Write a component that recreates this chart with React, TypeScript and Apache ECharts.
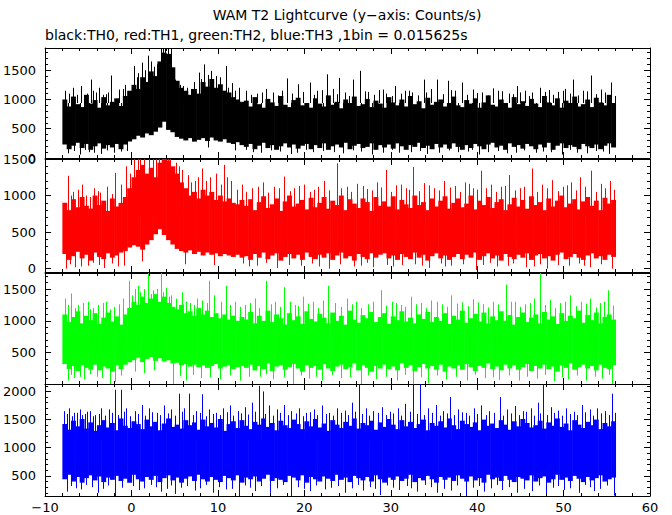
import React, { useEffect, useRef } from "react";
import * as echarts from "echarts";

const FONT = "DejaVu Sans";

// time bins: first bin starts at -8 s, each envelope bin is 0.5 s wide
const binStart = -8;
const binWidth = 0.5;

const xMajorTicks = [-10, 0, 10, 20, 30, 40, 50, 60];

// TH0 (black) upper / lower edge of the dense band, per 0.5 s
const th0Hi = [
  1000, 880, 1050, 920, 870, 1080, 930, 990, 860, 1040, 900, 960, 1020, 890, 1060, 1150,
  1250, 1180, 1380, 1300, 1480, 1400, 1650, 1800, 1780, 1550, 1320, 1200, 1150, 1080, 1180, 1100,
  1300, 1220, 1350, 1200, 1260, 1150, 1120, 1040, 1000, 960,
  980, 880, 1040, 920, 860, 1010, 950, 890, 1060, 910, 870, 990, 1030, 900, 940, 860,
  1020, 930, 880, 1070, 910, 960, 850, 1000, 940, 1050, 890, 920, 1010, 870, 980, 930,
  860, 1040, 950, 900, 1000, 880, 1060, 920, 970, 850, 1030, 910, 960, 1000, 880, 940,
  1050, 900, 870, 990, 930, 1020, 860, 950, 1070, 910, 880, 1000, 940, 860, 1040, 920,
  970, 890, 1010, 930, 870, 1060, 950, 900, 1020, 860, 980, 940, 1050, 880, 920, 1000,
  870, 1030, 950, 900, 1080, 940,
];
const th0Lo = [
  230, 150, 210, 260, 170, 240, 140, 200, 250, 160, 220, 180, 240, 150, 230, 280,
  320, 380, 350, 420, 390, 450, 520, 620, 480, 440, 360, 330, 300, 340, 280, 310,
  340, 290, 350, 300, 280, 320, 260, 240, 270, 220,
  190, 240, 150, 210, 260, 170, 220, 140, 200, 250, 180, 230, 160, 210, 240, 150,
  220, 170, 250, 140, 200, 230, 180, 260, 150, 210, 240, 170, 190, 250, 140, 220,
  180, 230, 160, 250, 200, 140, 220, 190, 260, 170, 210, 150, 240, 180, 230, 160,
  250, 190, 140, 220, 170, 240, 200, 150, 230, 260, 180, 210, 140, 250, 190, 220,
  160, 240, 200, 150, 230, 180, 260, 140, 210, 250, 170, 220, 190, 150, 240, 200,
  170, 230, 150, 210, 250, 180,
];
// isolated spikes above / below the band [time s, counts/s]
const th0Spikes = [
  [-7.67, 1150], [-7.2, 1100], [-6.82, 1200], [-6.3, 1080], [-5.81, 1230], [-5.5, 1060], [-5.2, 1100],
  [-4.72, 1340], [-4.4, 1150], [-4.1, 1120], [-3.79, 1200], [-3.3, 1080], [-3.0, 1090], [-2.7, 1120],
  [-2.32, 1410], [-1.48, 1170], [-1.0, 1180], [-0.8, 1250], [0.33, 1570], [0.6, 1380], [0.8, 1450],
  [1.26, 1630], [1.6, 1500], [1.89, 1750], [2.2, 1650], [2.6, 1560], [2.9, 1600], [3.36, 2000], [3.7, 2000],
  [3.9, 1900], [4.2, 2000], [4.6, 2000], [4.9, 1400], [5.04, 1340], [5.6, 1250], [6.0, 1230], [6.4, 1200],
  [6.9, 1180], [7.2, 1300], [7.78, 1460], [8.0, 1350], [8.41, 1600], [8.8, 1420], [9.25, 1490], [9.8, 1400],
  [10.2, 1380], [10.93, 1570], [11.2, 1200], [11.6, 1280], [12.0, 1150], [12.4, 1200], [13.3, 1150],
  [13.8, 1080], [14.5, 1100], [15.1, 1120], [15.6, 1180], [16.4, 1120], [16.9, 1070], [17.4, 1150],
  [17.96, 1360], [18.6, 1100], [19.26, 1260], [19.9, 1130], [20.6, 1290], [21.1, 1080], [21.5, 1150],
  [22.1, 1160], [22.6, 1430], [23.3, 1180], [23.8, 1090], [24.04, 1370], [24.7, 1120], [25.2, 1060],
  [25.64, 1340], [26.48, 1490], [27.0, 1140], [27.4, 1130], [28.1, 1080], [28.6, 1160], [29.1, 1170],
  [29.5, 1100], [30.1, 1060], [30.5, 1230], [31.2, 1100], [31.7, 1150], [32.1, 1150], [32.5, 1120],
  [33.2, 1070], [33.86, 1340], [34.1, 1120], [34.6, 1180], [35.33, 1340], [36.0, 1090], [36.6, 1320],
  [37.0, 1160], [37.4, 1150], [38.28, 1290], [38.8, 1080], [39.5, 1170], [40.0, 1110], [40.6, 1120],
  [41.3, 1070], [41.8, 1190], [42.4, 1150], [42.9, 1140], [43.7, 1100], [44.1, 1090], [44.6, 1230],
  [45.0, 1120], [45.5, 1150], [46.0, 1060], [46.4, 1120], [47.3, 1200], [47.8, 1130], [48.3, 1160],
  [48.8, 1080], [49.4, 1130], [49.9, 1150], [50.2, 1180], [50.7, 1100], [51.1, 1340], [51.7, 1070],
  [52.2, 1150], [52.7, 1140], [53.2, 1410], [53.8, 1090], [54.3, 1170], [54.8, 1120], [55.5, 1290],
  [55.9, 1060],
];
const th0Dips = [
  [-7.3, 80], [-6.6, 120], [-6.0, 60], [-5.4, 140], [-4.9, 100], [-4.3, 90], [-3.5, 70], [-2.8, 130],
  [-2.0, 90], [-1.2, 110], [-0.5, 120], [8.8, 180], [12.0, 130], [13.2, 140], [14.1, 100], [15.0, 90],
  [16.2, 130], [17.2, 110], [18.4, 70], [19.2, 90], [20.2, 140], [21.0, 100], [22.2, 120], [23.4, 100],
  [24.5, 80], [25.6, 130], [26.6, 110], [27.8, 60], [29.1, 90], [30.2, 140], [31.0, 90], [32.3, 100],
  [33.4, 120], [34.2, 70], [35.6, 90], [36.7, 130], [37.8, 100], [38.9, 110], [39.4, 140], [40.2, 60],
  [41.3, 100], [42.4, 120], [43.5, 80], [44.5, 90], [45.4, 130], [46.8, 90], [47.6, 110], [48.5, 100],
  [49.8, 60], [50.8, 140], [51.6, 90], [52.7, 80], [53.8, 120], [54.6, 110], [55.2, 70],
];

// TH1 (red)
const th1Hi = [
  900, 800, 950, 840, 980, 860, 820, 1000, 870, 930, 790, 960, 850, 900, 980, 1100,
  1250, 1350, 1420, 1300, 1380, 1250, 1450, 1500, 1480, 1400, 1300, 1180, 1100, 1000, 1050, 960,
  1080, 1000, 1050, 940, 1000, 920, 960, 900, 880, 940,
  860, 950, 800, 910, 990, 830, 880, 960, 790, 920, 1000, 850, 890, 940, 810, 970,
  840, 900, 980, 820, 930, 870, 1000, 800, 950, 890, 830, 960, 910, 790, 980, 860,
  920, 850, 990, 810, 940, 880, 830, 1000, 870, 910, 800, 960, 850, 930, 990, 820,
  900, 960, 840, 890, 1000, 810, 930, 870, 980, 830, 910, 950, 800, 880, 970, 850,
  940, 820, 990, 870, 910, 800, 960, 850, 930, 1000, 840, 890, 950, 810, 920, 980,
  860, 930, 800, 970, 890, 940,
];
const th1Lo = [
  200, 120, 170, 230, 140, 190, 110, 220, 160, 130, 210, 150, 180, 220, 240, 290,
  320, 300, 260, 330, 390, 470, 540, 460, 390, 330, 270, 240, 220, 250, 200, 230,
  180, 220, 190, 210, 170, 200, 180, 160, 190, 150,
  170, 120, 200, 150, 220, 130, 180, 210, 110, 160, 200, 140, 190, 120, 220, 160,
  130, 190, 150, 210, 120, 180, 220, 140, 170, 110, 200, 160, 130, 210, 150, 190,
  210, 140, 180, 120, 200, 160, 130, 220, 150, 190, 110, 170, 210, 140, 180, 120,
  160, 200, 130, 190, 150, 220, 120, 170, 210, 140, 180, 110, 200, 160, 130, 190,
  150, 210, 120, 180, 200, 140, 170, 110, 190, 220, 130, 160, 200, 150, 120, 180,
  210, 140, 170, 120, 190, 160,
];
const th1Spikes = [
  [-7.37, 1270], [-7.0, 1000], [-6.8, 1050], [-6.2, 1080], [-5.7, 1150], [-5.3, 1000], [-4.8, 980],
  [-4.3, 1100], [-3.9, 1060], [-3.6, 1040], [-2.8, 1120], [-2.3, 1020], [-1.9, 1310], [-1.2, 1150],
  [-0.6, 1400], [-0.2, 1300], [0.3, 1600], [0.8, 1600], [1.0, 1500], [1.5, 1600], [2.0, 1600], [2.5, 1550],
  [2.8, 1500], [3.2, 1600], [3.5, 1600], [3.9, 1600], [4.2, 1550], [4.5, 1600], [5.2, 1450], [5.5, 1400],
  [5.8, 1350], [6.5, 1280], [6.9, 1180], [7.3, 1200], [7.7, 1250], [8.2, 1370], [8.6, 1200], [9.1, 1250],
  [9.8, 1300], [10.3, 1150], [10.72, 1420], [11.0, 1250], [11.5, 1200], [12.2, 1080], [12.8, 1150],
  [13.3, 1050], [14.0, 1100], [14.6, 1120], [15.2, 1180], [15.8, 1040], [16.5, 1120], [17.1, 1100],
  [17.7, 1260], [18.3, 1060], [18.8, 1100], [19.4, 1130], [20.0, 1150], [20.6, 1050], [21.1, 1080],
  [21.6, 1120], [22.3, 1200], [22.8, 1070], [23.8, 1440], [24.3, 1100], [24.9, 1120], [25.4, 1050],
  [26.1, 1160], [26.8, 1130], [27.3, 1090], [27.8, 1070], [28.4, 1180], [28.9, 1110], [29.4, 1350],
  [30.0, 1050], [30.6, 1140], [31.2, 1150], [31.8, 1100], [32.1, 1080], [32.6, 1390], [33.3, 1060],
  [33.8, 1170], [34.4, 1140], [35.0, 1100], [35.6, 1070], [36.2, 1200], [36.8, 1110], [37.4, 1130],
  [38.0, 1050], [38.6, 1180], [39.0, 1160], [39.5, 1100], [40.0, 1080], [40.4, 1340], [41.0, 1100],
  [41.6, 1150], [42.2, 1050], [42.8, 1120], [43.2, 1130], [43.7, 1280], [44.4, 1070], [44.9, 1100],
  [45.4, 1120], [46.3, 1370], [46.9, 1050], [47.5, 1150], [48.1, 1100], [48.7, 1210], [49.3, 1060],
  [49.9, 1120], [50.4, 1140], [50.9, 1180], [51.4, 1070], [51.9, 1250], [52.5, 1120], [53.2, 1340],
  [53.7, 1050], [54.3, 1160], [54.8, 1100], [55.4, 1200], [55.8, 1080],
];
const th1Dips = [
  [-7.6, 0], [-7.1, 60], [-6.5, 20], [-5.9, 30], [-5.0, 40], [-4.5, 80], [-3.8, 50], [-3.2, 10],
  [-2.3, 70], [-1.6, 30], [-0.9, 40], [1.2, 100], [6.2, 60], [9.5, 50], [12.9, 70], [13.6, 30],
  [14.5, 40], [15.6, 80], [16.8, 10], [18.2, 50], [19.6, 40], [20.9, 70], [21.7, 30], [22.8, 0],
  [24.1, 60], [25.7, 30], [26.5, 40], [27.2, 80], [28.0, 20], [29.6, 50], [30.3, 30], [31.3, 50],
  [32.8, 60], [33.6, 40], [34.4, 10], [35.8, 70], [36.3, 30], [37.0, 40], [38.4, 60], [39.9, -20],
  [40.7, 50], [41.5, 80], [42.3, 30], [43.6, 40], [44.2, 70], [45.6, 20], [46.6, 30], [47.3, 60],
  [48.1, 0], [49.4, 50], [50.6, 40], [51.8, 70], [52.4, 40], [53.0, 20], [54.3, 60], [55.6, 0],
];

// TH2 (green)
const th2Hi = [
  1100, 980, 1060, 1150, 960, 1080, 1010, 1120, 950, 1050, 1130, 990, 1070, 940, 1100, 1200,
  1300, 1250, 1380, 1280, 1350, 1420, 1300, 1380, 1280, 1220, 1180, 1250, 1120, 1150, 1080, 1200,
  1100, 1160, 1060, 1120, 1040, 1100, 1020, 1080, 1000, 1060,
  1020, 1140, 960, 1080, 1000, 1160, 980, 1100, 1040, 940, 1120, 1010, 1070, 950, 1150, 1030,
  990, 1110, 1050, 960, 1130, 1000, 1080, 940, 1160, 1020, 970, 1090, 1040, 1140, 980, 1060,
  1120, 950, 1070, 1010, 1150, 990, 1050, 960, 1100, 1030, 1140, 980, 1060, 1000, 1120, 950,
  1080, 1020, 1160, 970, 1040, 1110, 990, 1130, 960, 1070, 1010, 1150, 1000, 1090, 940, 1060,
  1130, 980, 1050, 1100, 960, 1140, 1020, 1070, 950, 1120, 1000, 1080, 1040, 1160, 970, 1090,
  1010, 1130, 960, 1060, 1100, 1020,
];
const th2Lo = [
  320, 240, 290, 210, 300, 260, 230, 310, 220, 280, 250, 200, 300, 240, 310, 350,
  380, 420, 350, 400, 430, 370, 410, 360, 380, 330, 340, 300, 320, 280, 310, 270,
  300, 260, 290, 320, 250, 280, 300, 240, 270, 290,
  260, 310, 220, 290, 240, 330, 210, 280, 300, 230, 270, 320, 250, 200, 300, 260,
  290, 230, 320, 250, 210, 280, 310, 240, 270, 330, 220, 300, 260, 200, 290, 250,
  310, 240, 280, 220, 330, 260, 300, 210, 270, 320, 250, 290, 230, 310, 200, 280,
  250, 300, 230, 320, 270, 210, 290, 260, 330, 240, 280, 220, 310, 250, 300, 230,
  270, 320, 210, 290, 250, 310, 240, 280, 200, 300, 260, 330, 230, 270, 310, 250,
  290, 220, 310, 260, 240, 300,
];
const th2Spikes = [
  [-7.7, 1350], [-7.3, 1250], [-6.95, 1430], [-6.5, 1200], [-6.2, 1250], [-5.6, 1280], [-5.0, 1300],
  [-4.8, 1180], [-4.4, 1200], [-3.9, 1250], [-3.3, 1280], [-2.9, 1300], [-2.5, 1180], [-2.0, 1220],
  [-1.5, 1260], [-1.0, 1350], [-0.3, 1630], [0.0, 1400], [0.4, 1500], [0.7, 1550], [1.0, 1450], [1.4, 1500],
  [1.9, 1760], [2.2, 1420], [2.5, 1480], [2.9, 1500], [3.4, 1760], [3.7, 1450], [4.0, 1520], [4.3, 1380],
  [4.6, 1400], [5.2, 1350], [5.9, 1450], [6.3, 1300], [6.8, 1280], [7.2, 1250], [7.6, 1350], [8.2, 1320],
  [8.7, 1280], [9.0, 1630], [9.6, 1400], [10.3, 1300], [10.9, 1550], [11.4, 1250], [12.0, 1300],
  [12.6, 1220], [13.1, 1250], [13.7, 1280], [14.3, 1350], [14.8, 1200], [15.6, 1630], [16.1, 1260],
  [16.6, 1300], [17.2, 1220], [17.7, 1530], [18.3, 1300], [18.9, 1250], [19.3, 1230], [19.8, 1380],
  [20.4, 1270], [21.0, 1300], [21.6, 1200], [22.2, 1320], [22.7, 1550], [23.6, 1280], [24.2, 1220],
  [24.9, 1350], [25.5, 1260], [26.0, 1300], [26.6, 1200], [27.4, 1260], [28.0, 1300], [28.9, 1480],
  [29.5, 1240], [30.1, 1300], [30.6, 1280], [31.2, 1250], [31.7, 1220], [32.3, 1380], [32.9, 1260],
  [33.5, 1280], [34.1, 1200], [34.7, 1320], [35.3, 1300], [35.9, 1260], [36.5, 1220], [37.0, 1400],
  [37.7, 1270], [38.3, 1290], [38.9, 1230], [39.5, 1340], [40.1, 1290], [40.7, 1260], [41.3, 1210],
  [41.8, 1300], [42.4, 1260], [43.3, 1570], [43.9, 1300], [44.4, 1300], [45.0, 1220], [45.5, 1260],
  [46.1, 1280], [46.6, 1350], [47.3, 1760], [47.9, 1250], [48.4, 1330], [49.0, 1200], [49.6, 1280],
  [50.2, 1300], [50.8, 1400], [51.4, 1230], [52.0, 1300], [52.6, 1270], [53.1, 1350], [53.7, 1210],
  [54.2, 1280], [54.7, 1300], [55.1, 1480], [55.7, 1240],
];
const th2Dips = [
  [-7.4, 60], [-7.0, 150], [-6.6, 100], [-6.0, 120], [-5.5, 80], [-4.8, 160], [-4.0, 120], [-3.4, 100],
  [-2.5, 6], [-1.9, 40], [-1.2, 140], [0.4, 200], [1.5, 180], [2.6, 220], [4.8, 6], [5.6, 130],
  [6.3, 60], [7.1, 150], [8.0, 100], [9.1, 110], [10.2, 80], [11.4, 140], [12.6, 60], [13.6, 120],
  [14.9, 120], [15.6, 160], [16.4, 80], [17.6, 110], [18.7, 6], [19.6, 140], [20.5, 90], [21.3, 120],
  [22.1, 60], [23.2, 150], [24.2, 100], [25.3, 110], [26.5, 6], [27.4, 140], [28.3, 80], [29.5, 120],
  [30.7, 60], [31.6, 150], [32.6, 6], [33.5, 110], [34.3, 20], [35.4, 140], [36.4, 80], [37.6, 120],
  [38.8, 60], [39.8, 150], [40.9, 100], [41.8, 110], [42.5, 70], [43.7, 140], [44.8, 60], [45.8, 120],
  [46.9, 90], [47.8, 150], [48.9, 50], [49.8, 110], [50.5, 80], [51.6, 140], [52.6, 60], [53.6, 120],
  [54.4, 90], [55.2, 150], [55.6, 6],
];

// TH3 (blue)
const th3Hi = [
  1420, 1320, 1480, 1380, 1510, 1340, 1450, 1300, 1400, 1490,
  1360, 1440, 1310, 1520, 1390, 1350, 1470, 1420, 1330, 1500,
  1380, 1460, 1310, 1430, 1520, 1370, 1410, 1340, 1490, 1400,
  1450, 1320, 1500, 1380, 1440, 1360, 1510, 1300, 1420, 1470,
  1350, 1490, 1390, 1330, 1460, 1410, 1520, 1370, 1440, 1310,
  1480, 1400, 1350, 1500, 1420, 1330, 1470, 1380, 1510, 1360,
  1430, 1300, 1490, 1410, 1350, 1460, 1390, 1520, 1340, 1440,
  1400, 1480, 1320, 1450, 1370, 1510, 1410, 1330, 1490, 1380,
  1460, 1350, 1420, 1500, 1310, 1440, 1390, 1470, 1360, 1520,
  1400, 1330, 1480, 1420, 1370, 1450, 1310, 1500, 1390, 1430,
  1350, 1490, 1410, 1320, 1470, 1380, 1510, 1440, 1360, 1400,
  1480, 1340, 1450, 1390, 1520, 1370, 1430, 1310, 1490, 1410,
  1350, 1460, 1400, 1500, 1330, 1440, 1380, 1470,
];
const th3Lo = [
  440, 520, 400, 480, 380, 460, 510, 420, 490, 390,
  470, 430, 500, 410, 450, 380, 520, 440, 400, 480,
  430, 500, 390, 460, 510, 420, 470, 380, 450, 490,
  410, 520, 440, 400, 480, 430, 390, 500, 460, 420,
  510, 380, 470, 440, 490, 400, 450, 520, 410, 460,
  430, 390, 500, 470, 420, 510, 380, 480, 440, 400,
  490, 450, 410, 520, 430, 470, 390, 500, 460, 420,
  480, 400, 510, 440, 380, 470, 430, 490, 410, 450,
  520, 390, 460, 420, 500, 440, 380, 480, 430, 470,
  410, 510, 450, 400, 490, 420, 460, 380, 520, 440,
  470, 410, 500, 430, 390, 480, 450, 420, 510, 400,
  460, 490, 380, 440, 520, 430, 470, 410, 500, 450,
  390, 480, 420, 460, 510, 400, 440, 470,
];
const th3Spikes = [
  [-7.8, 1650], [-7.5, 1600], [-7.2, 1700], [-6.9, 1560], [-6.6, 1620], [-6.3, 1620], [-6.0, 1680],
  [-5.7, 1580], [-5.4, 1600], [-5.1, 1640], [-4.8, 1650], [-4.5, 1560], [-4.2, 1580], [-3.8, 1600],
  [-3.5, 1700], [-3.1, 1570], [-2.6, 1680], [-2.2, 1620], [-1.9, 2030], [-1.6, 1580], [-1.27, 2030],
  [-0.9, 1640], [-0.6, 1700], [-0.2, 1560], [0.4, 1650], [0.8, 1600], [1.2, 1760], [1.6, 1570],
  [2.0, 1700], [2.4, 1630], [2.9, 1620], [3.3, 1580], [3.8, 1750], [4.2, 1610], [4.6, 1680], [5.0, 1570],
  [5.46, 1960], [5.8, 1640], [6.1, 1700], [6.7, 1960], [7.1, 1580], [7.5, 1650], [7.9, 1620], [8.2, 1950],
  [8.6, 1560], [9.0, 1680], [9.4, 1600], [9.8, 1620], [10.2, 1580], [10.6, 1700], [11.0, 1630],
  [11.4, 1750], [11.8, 1570], [12.3, 1650], [12.7, 1610], [13.1, 1720], [13.5, 1590], [13.9, 1800],
  [14.3, 1640], [14.8, 2100], [15.2, 2000], [15.5, 1600], [15.9, 1750], [16.4, 1570], [16.8, 1680],
  [17.2, 1620], [17.6, 1760], [18.1, 1580], [18.5, 1650], [19.0, 1610], [19.4, 1700], [19.8, 1560],
  [20.2, 1620], [20.7, 1630], [21.1, 1680], [21.5, 1580], [22.0, 1750], [22.5, 1600], [22.9, 1620],
  [23.3, 1570], [23.8, 1700], [24.2, 1620], [24.7, 1660], [25.1, 1580], [25.5, 1800], [25.9, 1640],
  [26.3, 2130], [26.7, 1600], [27.1, 1700], [27.5, 1570], [28.0, 1650], [28.5, 1620], [29.0, 1720],
  [29.4, 1580], [29.9, 1640], [30.3, 1610], [30.8, 1700], [31.2, 1570], [31.7, 1780], [32.2, 1640],
  [32.6, 2130], [33.0, 1600], [33.4, 2130], [33.8, 1580], [34.3, 1700], [34.8, 1620], [35.2, 1760],
  [35.7, 1570], [36.1, 1650], [36.5, 1610], [36.9, 1900], [37.3, 1580], [37.8, 1680], [38.2, 1630],
  [38.7, 1620], [39.1, 1570], [39.6, 1700], [40.0, 1600], [40.5, 1750], [41.0, 1580], [41.4, 1650],
  [41.9, 1620], [42.6, 1900], [43.0, 1570], [43.5, 1680], [43.9, 1610], [44.4, 1740], [44.8, 1580],
  [45.3, 1650], [45.7, 1640], [46.2, 1700], [46.6, 1570], [47.0, 1800], [47.3, 1610], [47.66, 2130],
  [48.1, 1580], [48.5, 1720], [48.9, 1620], [49.4, 1660], [49.8, 1570], [50.3, 1700], [50.7, 1600],
  [51.2, 1640], [51.6, 1580], [52.1, 1760], [52.5, 1630], [53.0, 1680], [53.4, 1570], [53.9, 1700],
  [54.3, 1610], [54.8, 1650], [55.2, 1580], [55.65, 1960], [55.9, 1620],
];
const th3Dips = [
  [-7.5, 220], [-7.0, 320], [-6.4, 280], [-5.9, 260], [-5.3, 340], [-4.6, 300], [-3.9, 200], [-3.3, 270],
  [-2.7, 330], [-1.9, 143], [-1.1, 290], [0.2, 320], [0.9, 250], [1.5, 280], [2.2, 340], [2.8, 300],
  [3.4, 220], [4.1, 270], [4.6, 330], [5.0, 180], [5.7, 290], [6.4, 320], [7.3, 240], [7.9, 280],
  [8.6, 340], [9.4, 200], [10.1, 300], [10.9, 260], [11.6, 270], [12.4, 143], [13.1, 330], [13.7, 290],
  [14.3, 230], [15.0, 320], [16.0, 200], [16.8, 280], [17.5, 340], [18.5, 143], [19.3, 300], [20.0, 270],
  [20.6, 230], [21.4, 330], [22.4, 260], [23.1, 290], [23.9, 320], [24.7, 200], [25.5, 280], [26.2, 340],
  [26.8, 240], [27.6, 300], [28.2, 270], [28.8, 160], [29.6, 330], [30.3, 290], [31.0, 250], [31.9, 320],
  [32.4, 280], [33.0, 220], [34.0, 340], [34.6, 300], [35.3, 200], [36.2, 270], [37.0, 240], [37.7, 330],
  [38.7, 143], [39.5, 290], [40.2, 320], [40.8, 220], [41.6, 280], [42.3, 340], [42.9, 250], [43.7, 300],
  [44.6, 200], [45.4, 270], [46.3, 230], [47.1, 330], [48.0, 180], [48.8, 290], [49.4, 320], [50.1, 250],
  [50.8, 280], [51.8, 200], [52.5, 340], [53.0, 300], [53.5, 230], [54.2, 270], [55.0, 330], [55.8, 150],
];

const titleText = "WAM T2 Lightcurve (y\u2212axis: Counts/s)";
const subtitleText = "black:TH0, red:TH1, green:TH2, blue:TH3 ,1bin = 0.015625s";

const panels = [
  { color: "#000000", hi: th0Hi, lo: th0Lo, spikes: th0Spikes, dips: th0Dips, min: 0, max: 1880, top: 48, height: 110 },
  { color: "#ff0000", hi: th1Hi, lo: th1Lo, spikes: th1Spikes, dips: th1Dips, min: -46, max: 1500, top: 159, height: 113 },
  { color: "#00ff00", hi: th2Hi, lo: th2Lo, spikes: th2Spikes, dips: th2Dips, min: 6, max: 1752, top: 273, height: 111 },
  { color: "#0000ff", hi: th3Hi, lo: th3Lo, spikes: th3Spikes, dips: th3Dips, min: 143, max: 2132, top: 384, height: 112 },
];

function buildOption() {
  const grids: any[] = [];
  const xAxes: any[] = [];
  const yAxes: any[] = [];
  const series: any[] = [];
  const line = { color: "#000", width: 1 };
  const xMinor: number[] = [];
  for (let v = -10; v <= 60; v += 2) if (v % 10 !== 0) xMinor.push(v);
  const fmtX = (v: number) => (v < 0 ? "\u2212" + Math.abs(v) : String(v));
  const fmtY = (v: number) => String(v);

  panels.forEach((p, i) => {
    const last = i === panels.length - 1;
    grids.push({ left: 45, right: 22, top: p.top, height: p.height });
    const yMajor: number[] = [];
    const yMinor: number[] = [];
    for (let v = Math.ceil(p.min / 100) * 100; v <= p.max; v += 100) {
      if (v % 500 === 0) yMajor.push(v);
      else yMinor.push(v);
    }
    const xc = { gridIndex: i, type: "value", min: -10, max: 60, splitLine: { show: false } };
    xAxes.push({
      ...xc, position: "bottom",
      axisLine: { show: true, onZero: false, lineStyle: line },
      axisTick: { show: true, inside: true, length: 6, customValues: xMajorTicks, lineStyle: line },
      axisLabel: { show: last, customValues: xMajorTicks, formatter: fmtX, color: "#000", fontSize: 13, fontFamily: FONT, margin: 5 },
    });
    xAxes.push({
      ...xc, position: "bottom",
      axisLine: { show: false, onZero: false },
      axisTick: { show: true, inside: true, length: 3, customValues: xMinor, lineStyle: line },
      axisLabel: { show: false },
    });
    xAxes.push({
      ...xc, position: "top",
      axisLine: { show: true, onZero: false, lineStyle: line },
      axisTick: { show: true, inside: true, length: 6, customValues: xMajorTicks, lineStyle: line },
      axisLabel: { show: false },
    });
    xAxes.push({
      ...xc, position: "top",
      axisLine: { show: false, onZero: false },
      axisTick: { show: true, inside: true, length: 3, customValues: xMinor, lineStyle: line },
      axisLabel: { show: false },
    });
    const yc = { gridIndex: i, type: "value", min: p.min, max: p.max, splitLine: { show: false } };
    yAxes.push({
      ...yc, position: "left",
      axisLine: { show: true, onZero: false, lineStyle: line },
      axisTick: { show: true, inside: true, length: 6, customValues: yMajor, lineStyle: line },
      axisLabel: { show: true, customValues: yMajor, formatter: fmtY, color: "#000", fontSize: 13, fontFamily: FONT, margin: 9 },
    });
    yAxes.push({
      ...yc, position: "left",
      axisLine: { show: false, onZero: false },
      axisTick: { show: true, inside: true, length: 3, customValues: yMinor, lineStyle: line },
      axisLabel: { show: false },
    });
    yAxes.push({
      ...yc, position: "right",
      axisLine: { show: true, onZero: false, lineStyle: line },
      axisTick: { show: true, inside: true, length: 6, customValues: yMajor, lineStyle: line },
      axisLabel: { show: false },
    });
    yAxes.push({
      ...yc, position: "right",
      axisLine: { show: false, onZero: false },
      axisTick: { show: true, inside: true, length: 3, customValues: yMinor, lineStyle: line },
      axisLabel: { show: false },
    });

    const band = p.hi.map((h, k) => [binStart + k * binWidth, p.lo[k], h]);
    series.push({
      type: "custom",
      xAxisIndex: i * 4,
      yAxisIndex: i * 4,
      clip: true,
      data: band,
      renderItem: (params: any, api: any) => {
        const t0 = api.value(0);
        const lo = api.value(1);
        const hi = api.value(2);
        const a = api.coord([t0, hi]);
        const b = api.coord([t0 + binWidth, lo]);
        return {
          type: "rect",
          shape: { x: a[0], y: a[1], width: b[0] - a[0] + 0.6, height: b[1] - a[1] },
          style: { fill: p.color },
        };
      },
    });
    const base = (p.min + p.max) / 2;
    series.push({
      type: "custom",
      xAxisIndex: i * 4,
      yAxisIndex: i * 4,
      clip: true,
      data: [...p.spikes, ...p.dips],
      renderItem: (params: any, api: any) => {
        const t = api.value(0);
        const v = api.value(1);
        const a = api.coord([t, base]);
        const b = api.coord([t, v]);
        const x = Math.round(a[0]) + 0.5;
        return {
          type: "line",
          shape: { x1: x, y1: a[1], x2: x, y2: b[1] },
          style: { stroke: p.color, lineWidth: 1 },
        };
      },
    });
  });

  return {
    animation: false,
    backgroundColor: "#ffffff",
    grid: grids,
    xAxis: xAxes,
    yAxis: yAxes,
    series,
    graphic: [
      {
        type: "text", x: 347, y: 15,
        style: { text: titleText, fill: "#000", font: `14px "${FONT}"`, textAlign: "center", textVerticalAlign: "middle" },
      },
      {
        type: "text", x: 45, y: 35,
        style: { text: subtitleText, fill: "#000", font: `14px "${FONT}"`, textAlign: "left", textVerticalAlign: "middle" },
      },
    ],
  };
}

export default function App() {
  const ref = useRef<HTMLDivElement>(null);
  useEffect(() => {
    if (!ref.current) return;
    const chart = echarts.init(ref.current, undefined, { renderer: "svg" });
    chart.setOption(buildOption() as any);
    return () => chart.dispose();
  }, []);
  return <div ref={ref} style={{ position: "fixed", left: 0, top: 0, width: 672, height: 515 }} />;
}
